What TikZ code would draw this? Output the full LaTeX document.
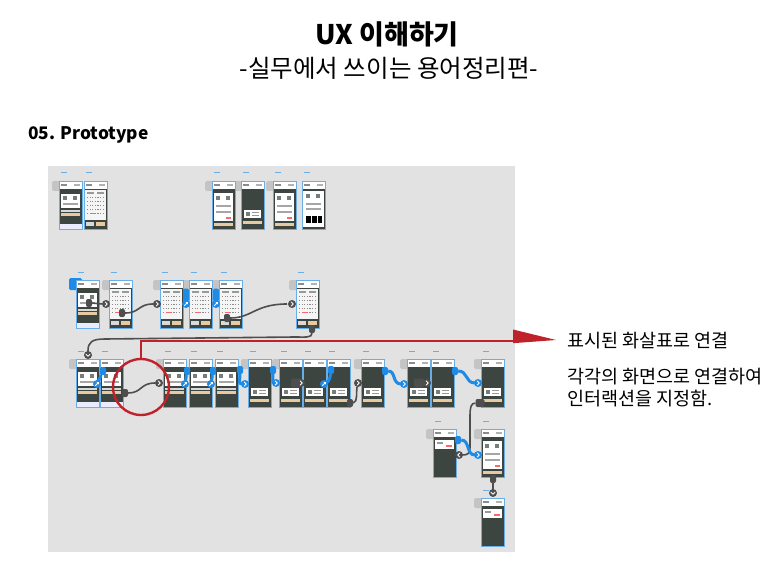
\documentclass[tikz,border=0pt]{standalone}
\usepackage{fontspec}
\setmainfont{Noto Sans CJK KR}
\usetikzlibrary{calc}
\definecolor{panel}{HTML}{E2E2E2}
\definecolor{scrdark}{HTML}{3D4541}
\definecolor{scrblue}{HTML}{6AAEE8}
\definecolor{conblue}{HTML}{1E8BE6}
\definecolor{condark}{HTML}{4E4E4E}
\definecolor{beige}{HTML}{E9C9A0}
\definecolor{tabgrey}{HTML}{C4C4C4}
\definecolor{annred}{HTML}{C0222C}
\tikzset{
 scr/.style={rectangle, anchor=north west, minimum width=23pt, minimum height=48pt, inner sep=0pt, outer sep=0pt, fill=scrdark},
 scrline/.style={draw=scrblue, line width=0.9pt},
 labdash/.style={scrblue, line width=1pt},
 arrc/.style={circle, minimum size=8pt, inner sep=0pt},
 chevl/.style={white, line width=0.9pt, line cap=round, line join=round},
 blob/.style={rectangle, rounded corners=2pt, minimum width=6pt, minimum height=8pt, inner sep=0pt},
 dcon/.style={condark, line width=1.6pt},
 bcon/.style={conblue, line width=3pt},
 redl/.style={annred, line width=2.4pt},
 anntext/.style={anchor=base west, font=\fontsize{18.5}{22}\selectfont, inner sep=0pt},
}
\newcommand\tabat[2]{\fill[tabgrey, rounded corners=1.5pt] (#1-7,#2) rectangle (#1+6,#2+10);}
\newcommand\sccard{\fill[white] (2,13) rectangle (21,27);
  \fill[scrdark!70] (4,15) rectangle (8,19); \fill[scrdark!70] (14,15) rectangle (18,19);
  \fill[black!35] (4,22) rectangle (19,23.5);
  \fill[white!85!black] (2,28.5) rectangle (21,30.5);
  \fill[beige] (2,32) rectangle (21,35);}
\newcommand\sccardtab{\sccard \fill[white!92!blue] (0,43) rectangle (23,48);}
\newcommand\sccal{\fill[white!96!black] (1,9) rectangle (22,39);
  \foreach \i in {0,...,6}{\foreach \j in {0,...,4}{\fill[black!45] (3+\i*2.6,16+\j*4) rectangle ++(1.2,1);}}
  \fill[black!40] (3,11) rectangle (10,13); \fill[black!40] (13,11) rectangle (20,13);
  \fill[red!60] (6,32) rectangle (11,33);
  \fill[white!85!black] (2,41) rectangle (10,45); \fill[beige] (12,41) rectangle (21,45);}
\newcommand\scbig{\fill[white] (2,12) rectangle (21,40);
  \fill[scrdark!70] (4,15) rectangle (8,19); \fill[scrdark!70] (14,15) rectangle (18,19);
  \fill[black!35] (4,24) rectangle (19,25.5); \fill[black!35] (4,30) rectangle (19,31.5);
  \fill[red!60] (14,36) rectangle (19,37.5);
  \fill[beige] (2,42) rectangle (21,45);}
\newcommand\sclow{\fill[white] (3,29) rectangle (20,37);
  \fill[scrdark!70] (5,31) rectangle (9,35); \fill[black!40] (11,31) rectangle (18,32);
  \fill[black!40] (11,34) rectangle (18,35);
  \fill[beige] (2,40) rectangle (21,43);}
\newcommand\sctop{\fill[white] (2,11) rectangle (21,20);
  \fill[black!40] (4,13) rectangle (10,14.5); \fill[red!60] (13,16) rectangle (19,17.5);}
\newcommand\scbar{\fill[white] (1,10) rectangle (22,46);
  \fill[scrdark!70] (4,13) rectangle (8,17); \fill[scrdark!70] (14,13) rectangle (18,17);
  \fill[black!35] (4,22) rectangle (19,23.5); \fill[black!35] (4,27) rectangle (19,28.5);
  \foreach \k in {0,...,13}{\fill[black] (3.5+\k*1.2,35) rectangle ++(0.6,7);}}
\newcommand\mkscreen[4]{%
  \node[scr] (#1) at (#2,#3) {};
  \begin{scope}[shift={(#2,#3)}]
    \fill[white] (0,0) rectangle (23,8);
    \fill[black!45] (2,3.3) rectangle (8,4.8);
    \fill[black!30] (15,3.3) rectangle (21,4.8);
    \csname sc#4\endcsname
    \draw[labdash] (2,-8) -- (8,-8);
  \end{scope}
  \draw[scrline] (#1.north west) rectangle (#1.south east);}
\newcommand\arR[4]{\node[arrc, fill=#4] (#1) at (#2,#3) {};
  \draw[chevl] ($(#1)+(-0.8,-2)$) -- ($(#1)+(1.2,0)$) -- ($(#1)+(-0.8,2)$);}
\newcommand\arL[4]{\node[arrc, fill=#4] (#1) at (#2,#3) {};
  \draw[chevl] ($(#1)+(0.8,-2)$) -- ($(#1)+(-1.2,0)$) -- ($(#1)+(0.8,2)$);}
\newcommand\arD[4]{\node[arrc, fill=#4] (#1) at (#2,#3) {};
  \draw[chevl] ($(#1)+(-2,-0.8)$) -- ($(#1)+(0,1.2)$) -- ($(#1)+(2,-0.8)$);}
\newcommand\arE[4]{\node[arrc, fill=#4] (#1) at (#2,#3) {};
  \draw[chevl] ($(#1)+(-1.6,1.6)$) -- ($(#1)+(1.6,-1.6)$);
  \draw[chevl] ($(#1)+(0,-1.6)$) -- ($(#1)+(1.6,-1.6)$) -- ($(#1)+(1.6,0)$);}
\begin{document}
\begin{tikzpicture}[x=1pt,y=-1pt]
\useasboundingbox (0,0) rectangle (773,580);
\fill[white] (0,0) rectangle (773,580);
% titles
\node[anchor=base, font=\fontsize{27}{32}\selectfont\bfseries, inner sep=0pt] (title) at (387,45) {UX 이해하기};
\node[anchor=base, font=\fontsize{24.5}{29}\selectfont, inner sep=0pt] (sub) at (389,78) {-실무에서 쓰이는 용어정리편-};
\node[anchor=base west, font=\fontsize{17.3}{21}\selectfont\bfseries, inner sep=0pt] (sec) at (28,140) {05. Prototype};
% panel
\fill[panel] (48,166) rectangle (515,552);
% row 1
\tabat{59}{181} \tabat{212}{181} \tabat{241}{181} \tabat{273}{181}
\mkscreen{A1}{59}{181}{cardtab}
\mkscreen{A2}{84}{181}{cal}
\mkscreen{A3}{212}{181}{big}
\mkscreen{A4}{241}{181}{low}
\mkscreen{A5}{273}{181}{big}
\mkscreen{A6}{302}{181}{bar}
% row 2
\fill[conblue, rounded corners=1.5pt] (69,278) rectangle (82,290);
\tabat{109}{280} \tabat{160}{280} \tabat{296}{280}
\fill[tabgrey] (160,280) rectangle (242,290);
\mkscreen{B1}{76}{280}{cardtab}
\mkscreen{B2}{109}{280}{cal}
\mkscreen{B3}{160}{280}{cal}
\mkscreen{B4}{189}{280}{cal}
\mkscreen{B5}{219}{280}{cal}
\mkscreen{B6}{296}{280}{cal}
% row 3
\tabat{76}{359} \tabat{163}{359} \tabat{248}{359} \tabat{279}{359} \tabat{361}{359} \tabat{407}{359} \tabat{481}{359}
\mkscreen{C1}{76}{359}{cardtab}
\mkscreen{C2}{100}{359}{cardtab}
\mkscreen{C3}{163}{359}{card}
\mkscreen{C4}{189}{359}{card}
\mkscreen{C5}{215}{359}{card}
\mkscreen{C6}{248}{359}{low}
\mkscreen{C7}{279}{359}{low}
\mkscreen{C8}{303}{359}{low}
\mkscreen{C9}{327}{359}{low}
\mkscreen{C10}{361}{359}{low}
\mkscreen{C11}{407}{359}{low}
\mkscreen{C12}{431}{359}{low}
\mkscreen{C13}{481}{359}{low}
% row 4, 5
\tabat{433}{429} \tabat{481}{429} \tabat{481}{498}
\mkscreen{D1}{433}{429}{top}
\mkscreen{D2}{481}{429}{big}
\mkscreen{E1}{481}{498}{top}
% ---- connectors row 2
\node[blob, fill=condark] (h21) at (89,303) {};
\arR{a21}{106}{304}{condark}
\draw[dcon] (h21.east) -- (a21.west);
\node[blob, fill=condark] (h22) at (122,313) {};
\draw[dcon] (h22.east) .. controls (140,313) and (138,304) .. (153,304);
\arR{a22}{157}{304}{condark}
\node[blob, fill=conblue, minimum height=13pt] (hb23) at (186,295) {};
\arE{a23}{186}{304}{conblue}
\node[blob, fill=conblue, minimum height=13pt] (hb24) at (216,295) {};
\arE{a24}{216}{304}{conblue}
\node[blob, fill=condark] (h25) at (227,318) {};
\draw[dcon] (h25.east) .. controls (252,318) and (255,304) .. (287,304);
\arR{a25}{292}{304}{condark}
% B6 -> C1
\node[blob, fill=condark] (h26) at (312,329) {};
\coordinate (k1) at (295,337);
\coordinate (k2) at (105,339);
\draw[dcon] (h26.south) .. controls (312,338) and (305,337) .. (k1) -- (k2) .. controls (92,339) and (88,342) .. (88,351);
\arD{a31}{88}{355}{condark}
% ---- connectors row 3
\node[blob, fill=conblue] (hb31) at (103,371) {};
\draw[bcon] (hb31) -- (97,384);
\arE{a32}{97}{384}{conblue}
\node[blob, fill=condark] (h32) at (125,393) {};
\draw[dcon] (h32.east) .. controls (142,393) and (140,383) .. (155,383);
\arR{a33}{159}{383}{condark}
\node[blob, fill=conblue] (hb34) at (187,371) {};
\draw[bcon] (hb34) -- (185,384);
\arE{a34}{185}{384}{conblue}
\node[blob, fill=conblue] (hb35) at (213,371) {};
\draw[bcon] (hb35) -- (211,384);
\arE{a35}{211}{384}{conblue}
\node[blob, fill=conblue] (hb36) at (240,370) {};
\draw[bcon] (hb36) .. controls (240,380) and (238,384) .. (242,384);
\arR{a36}{245}{384}{conblue}
\node[blob, fill=conblue] (hb37) at (273,370) {};
\draw[bcon] (hb37) .. controls (273,380) and (272,383) .. (274,383);
\arR{a37}{276}{383}{conblue}
\node[blob, fill=condark, minimum width=10pt, minimum height=9pt] (h38) at (296,383) {};
\arR{a38}{301}{383}{condark}
\node[blob, fill=conblue] (hb39) at (331,370) {};
\draw[bcon] (hb39) .. controls (330,380) and (327,384) .. (324,384);
\arE{a39}{324}{384}{conblue}
\node[blob, fill=condark] (h310) at (350,403) {};
\draw[dcon] (h310.east) .. controls (358,402) and (356,392) .. (357,387);
\arR{a310}{358}{383}{condark}
\node[blob, fill=conblue] (hb311) at (385,371) {};
\draw[bcon] (hb311.east) .. controls (396,371) and (392,384) .. (401,384);
\arR{a311}{404}{384}{conblue}
\node[blob, fill=condark, minimum width=10pt, minimum height=9pt] (h312) at (419,383) {};
\arR{a312}{427}{383}{condark}
\node[blob, fill=conblue] (hb313) at (455,371) {};
\draw[bcon] (hb313.east) .. controls (468,371) and (465,383) .. (475,383);
\arR{a313}{478}{383}{conblue}
% C13 -> D1
\node[blob, fill=condark, minimum width=9pt] (h4) at (480,403) {};
\draw[dcon] (h4.west) .. controls (471,403) and (470,408) .. (470,415) -- (470,448) .. controls (470,454) and (467,455) .. (462,455);
\arL{a41}{459}{455}{condark}
\node[blob, fill=conblue] (hb42) at (458,440) {};
\draw[bcon] (hb42.east) .. controls (470,440) and (466,455) .. (475,455);
\arR{a42}{478}{455}{conblue}
% D2 -> E1
\node[blob, fill=condark] (h5) at (493,479) {};
\draw[dcon] (h5) -- (493,490);
\arD{a5}{493}{493}{condark}
% ---- annotation
\node[circle, draw=annred, line width=2.4pt, minimum size=56pt, inner sep=0pt] (rcirc) at (141,387) {};
\coordinate (rturn) at (515,341);
\draw[redl] (rcirc.north) |- (rturn);
\fill[annred] (513,329.5) -- (556,340) -- (513,343.2) -- cycle;
\node[anntext] (t1) at (567,347) {표시된 화살표로 연결};
\node[anntext] (t2) at (567,383) {각각의 화면으로 연결하여};
\node[anntext] (t3) at (567,405) {인터랙션을 지정함.};
\end{tikzpicture}
\end{document}
